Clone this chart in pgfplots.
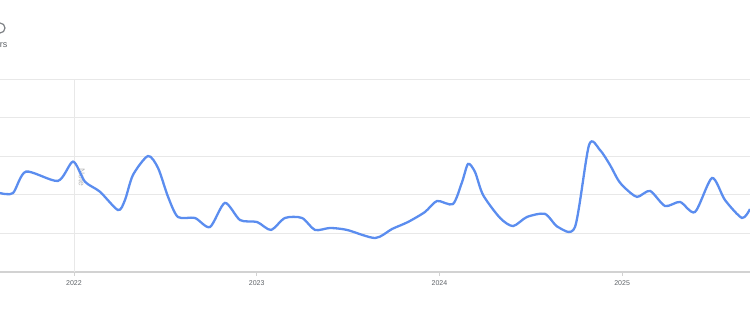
\documentclass[border=0pt]{standalone}
\usepackage{pgfplots}
\pgfplotsset{compat=1.18}
\usepackage{fontspec}
\setmainfont{Liberation Sans}
\definecolor{trendblue}{HTML}{5B8DEF}
\definecolor{gridgray}{HTML}{E8E8E8}
\definecolor{axisgray}{HTML}{D2D2D2}
\definecolor{labelgray}{HTML}{5F6368}
\definecolor{notegray}{HTML}{B4B4B4}
\begin{document}
\begin{tikzpicture}[x=1pt,y=1pt]
% cut-off header texts
\draw[labelgray!80, line width=1.2pt] (0,282) circle (5);
\node[anchor=east, inner sep=0pt, text=labelgray, font=\fontsize{9}{10}\selectfont] at (7.5,265) {Past 5 years};
\begin{axis}[
  at={(0pt,38pt)}, anchor=south west,
  scale only axis, width=750pt, height=193pt,
  xmin=2021.595, xmax=2025.700,
  ymin=0, ymax=100,
  axis x line*=bottom, axis y line*=left,
  x axis line style={draw=axisgray, line width=2pt, -},
  y axis line style={draw=none},
  ytick={20,40,60,80,100}, yticklabels={},
  ytick style={draw=none},
  ymajorgrids, y grid style={gridgray, line width=0.9pt},
  xtick={2022,2023,2024,2025},
  xticklabels={2022,2023,2024,2025},
  tick align=outside, major tick length=4pt,
  x tick style={draw=axisgray, line width=0.8pt},
  xticklabel style={font=\fontsize{7}{8}\selectfont, text=labelgray, yshift=-1pt},
  clip=false,
]
\draw[gridgray, line width=0.9pt] (axis cs:2022,0) -- (axis cs:2022,100);
\node[rotate=-90, text=notegray, inner sep=0pt, font=\fontsize{8.5}{9}\selectfont] at (axis cs:2022.042,49) {Note};
\addplot[trendblue, line width=2.3pt, smooth, tension=0.45] coordinates {
(2021.595,40.9) (2021.666,40.9) (2021.737,52.0) (2021.912,47.2) (2021.995,57.2)
(2022.060,46.8) (2022.142,41.6) (2022.241,32.1) (2022.279,37.3) (2022.323,50.3)
(2022.405,60.1) (2022.460,53.9) (2022.515,38.9) (2022.569,28.5) (2022.662,28.0)
(2022.744,23.3) (2022.826,35.8) (2022.909,26.9) (2023.002,25.9) (2023.078,21.8)
(2023.155,28.0) (2023.248,28.0) (2023.319,21.8) (2023.401,22.8) (2023.494,21.8)
(2023.648,17.6) (2023.741,22.3) (2023.828,25.9) (2023.921,31.1) (2023.987,36.8)
(2024.074,35.2) (2024.124,46.6) (2024.157,56.0) (2024.195,51.8) (2024.239,39.9)
(2024.332,28.0) (2024.403,23.8) (2024.479,28.5) (2024.578,30.1) (2024.649,23.3)
(2024.742,23.3) (2024.819,65.8) (2024.879,63.2) (2024.934,55.4) (2024.978,47.7)
(2025.016,43.5) (2025.082,38.9) (2025.153,42.0) (2025.235,34.2) (2025.317,36.3)
(2025.399,31.1) (2025.492,48.7) (2025.563,37.3) (2025.656,28.0) (2025.700,32.6)
};
\end{axis}
\pgfresetboundingbox
\useasboundingbox (0,0) rectangle (750,310);
\end{tikzpicture}
\end{document}
